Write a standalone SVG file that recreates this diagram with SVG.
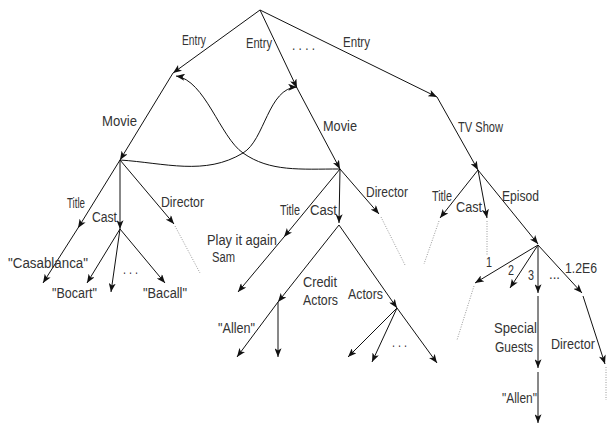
<svg xmlns="http://www.w3.org/2000/svg" width="607" height="428" viewBox="0 0 607 428">
  <defs>
    <marker id="arrow" viewBox="0 0 10 8" refX="10" refY="4" markerWidth="9" markerHeight="7" orient="auto" markerUnits="userSpaceOnUse">
      <path d="M0,0 L10,4 L0,8 L2.5,4 z" fill="#111"/>
    </marker>
    <style>
      .e { stroke: #111; stroke-width: 1; fill: none; marker-end: url(#arrow); }
      .d { stroke: #999; stroke-width: 1; fill: none; stroke-dasharray: 1 1.5; }
      text { font-family: "Liberation Sans", Arial, sans-serif; font-size: 14px; fill: #333; }
    </style>
  </defs>
  <rect width="607" height="428" fill="#fff"/>

  <!-- edges -->
  <g id="connectors">
    <!-- root entries -->
    <line class="e" x1="260" y1="10" x2="173" y2="73"/>
    <line class="e" x1="260" y1="10" x2="297" y2="88"/>
    <line class="e" x1="260" y1="10" x2="437" y2="97"/>
    <!-- movie 1 -->
    <line class="e" x1="173" y1="73" x2="120" y2="160"/>
    <line class="e" x1="120" y1="160" x2="78" y2="228"/>
    <line class="e" x1="120" y1="160" x2="120" y2="229"/>
    <line class="e" x1="120" y1="160" x2="174" y2="224"/>
    <line class="e" x1="78" y1="228" x2="43" y2="283"/>
    <line class="e" x1="120" y1="229" x2="87" y2="283"/>
    <line class="e" x1="120" y1="229" x2="111" y2="292"/>
    <line class="e" x1="120" y1="229" x2="165" y2="283"/>
    <line class="d" x1="175" y1="226" x2="200" y2="273"/>
    <!-- cross references between movies -->
    <path class="e" d="M120,160 C165,163 205,176 243,153 C265,140 268,88 297,87"/>
    <path class="e" d="M340,169 C300,169 270,172 243,153 C220,137 205,80 176,76"/>
    <!-- movie 2 -->
    <line class="e" x1="297" y1="88" x2="340" y2="169"/>
    <line class="e" x1="340" y1="169" x2="284" y2="237"/>
    <line class="e" x1="340" y1="169" x2="339" y2="223"/>
    <line class="e" x1="340" y1="169" x2="379" y2="214"/>
    <line class="e" x1="284" y1="237" x2="238" y2="292"/>
    <line class="e" x1="339" y1="225" x2="278" y2="302"/>
    <line class="e" x1="339" y1="225" x2="397" y2="308"/>
    <line class="e" x1="278" y1="302" x2="237" y2="357"/>
    <line class="e" x1="278" y1="302" x2="278" y2="357"/>
    <line class="e" x1="397" y1="308" x2="348" y2="357"/>
    <line class="e" x1="397" y1="308" x2="372" y2="362"/>
    <line class="e" x1="397" y1="308" x2="437" y2="363"/>
    <line class="d" x1="381" y1="217" x2="405" y2="265"/>
    <!-- tv show -->
    <line class="e" x1="437" y1="97" x2="478" y2="170"/>
    <line class="e" x1="478" y1="170" x2="440" y2="218"/>
    <line class="e" x1="478" y1="170" x2="487" y2="218"/>
    <line class="e" x1="478" y1="170" x2="538" y2="244"/>
    <line class="d" x1="439" y1="221" x2="424" y2="264"/>
    <line class="d" x1="487" y1="221" x2="487" y2="255"/>
    <!-- episodes -->
    <line class="e" x1="538" y1="245" x2="475" y2="283"/>
    <line class="e" x1="538" y1="245" x2="510" y2="288"/>
    <line class="e" x1="538" y1="245" x2="538" y2="293"/>
    <line class="e" x1="538" y1="245" x2="582" y2="293"/>
    <line class="d" x1="474" y1="286" x2="457" y2="340"/>
    <line class="e" x1="538" y1="296" x2="538" y2="368"/>
    <line class="e" x1="538" y1="372" x2="538" y2="423"/>
    <line class="e" x1="583" y1="296" x2="605" y2="364"/>
    <line class="d" x1="606" y1="367" x2="606" y2="400"/>
  </g>

  <!-- edge labels -->
  <g id="edge-labels">
    <text x="182" y="45" textLength="24" lengthAdjust="spacingAndGlyphs">Entry</text>
    <text x="246" y="48" textLength="26" lengthAdjust="spacingAndGlyphs">Entry</text>
    <text x="292" y="50" textLength="23" lengthAdjust="spacingAndGlyphs">. . . .</text>
    <text x="343" y="47" textLength="27" lengthAdjust="spacingAndGlyphs">Entry</text>
    <text x="102" y="126" textLength="35" lengthAdjust="spacingAndGlyphs">Movie</text>
    <text x="323" y="131" textLength="34" lengthAdjust="spacingAndGlyphs">Movie</text>
    <text x="458" y="132" textLength="45" lengthAdjust="spacingAndGlyphs">TV Show</text>
    <text x="67" y="208" textLength="18" lengthAdjust="spacingAndGlyphs">Title</text>
    <text x="92" y="222" textLength="25" lengthAdjust="spacingAndGlyphs">Cast</text>
    <text x="161" y="207" textLength="43" lengthAdjust="spacingAndGlyphs">Director</text>
    <text x="123" y="274" textLength="15" lengthAdjust="spacingAndGlyphs">. . .</text>
    <text x="280" y="215" textLength="20" lengthAdjust="spacingAndGlyphs">Title</text>
    <text x="310" y="215" textLength="27" lengthAdjust="spacingAndGlyphs">Cast</text>
    <text x="366" y="197" textLength="42" lengthAdjust="spacingAndGlyphs">Director</text>
    <text x="303" y="287" textLength="34" lengthAdjust="spacingAndGlyphs">Credit</text>
    <text x="303" y="305" textLength="35" lengthAdjust="spacingAndGlyphs">Actors</text>
    <text x="348" y="299" textLength="35" lengthAdjust="spacingAndGlyphs">Actors</text>
    <text x="392" y="347" textLength="15" lengthAdjust="spacingAndGlyphs">. . .</text>
    <text x="432" y="201" textLength="20" lengthAdjust="spacingAndGlyphs">Title</text>
    <text x="456" y="212" textLength="26" lengthAdjust="spacingAndGlyphs">Cast</text>
    <text x="502" y="201" textLength="37" lengthAdjust="spacingAndGlyphs">Episod</text>
    <text x="486" y="267" textLength="6" lengthAdjust="spacingAndGlyphs">1</text>
    <text x="508" y="275" textLength="6" lengthAdjust="spacingAndGlyphs">2</text>
    <text x="528" y="280" textLength="6" lengthAdjust="spacingAndGlyphs">3</text>
    <text x="549" y="279" textLength="11" lengthAdjust="spacingAndGlyphs">...</text>
    <text x="565" y="273" textLength="32" lengthAdjust="spacingAndGlyphs">1.2E6</text>
    <text x="494" y="333" textLength="43" lengthAdjust="spacingAndGlyphs">Special</text>
    <text x="495" y="352" textLength="38" lengthAdjust="spacingAndGlyphs">Guests</text>
    <text x="551" y="349" textLength="44" lengthAdjust="spacingAndGlyphs">Director</text>
  </g>

  <!-- value nodes -->
  <g id="node-casablanca"><text x="8" y="268" textLength="80" lengthAdjust="spacingAndGlyphs">"Casablanca"</text></g>
  <g id="node-bocart"><text x="52" y="298" textLength="45" lengthAdjust="spacingAndGlyphs">"Bocart"</text></g>
  <g id="node-bacall"><text x="143" y="298" textLength="44" lengthAdjust="spacingAndGlyphs">"Bacall"</text></g>
  <g id="node-play-it-again-sam">
    <text x="207" y="245" textLength="70" lengthAdjust="spacingAndGlyphs">Play it again</text>
    <text x="212" y="262" textLength="23" lengthAdjust="spacingAndGlyphs">Sam</text>
  </g>
  <g id="node-allen-credit"><text x="218" y="333" textLength="37" lengthAdjust="spacingAndGlyphs">"Allen"</text></g>
  <g id="node-allen-guest"><text x="502" y="403" textLength="35" lengthAdjust="spacingAndGlyphs">"Allen"</text></g>
</svg>
